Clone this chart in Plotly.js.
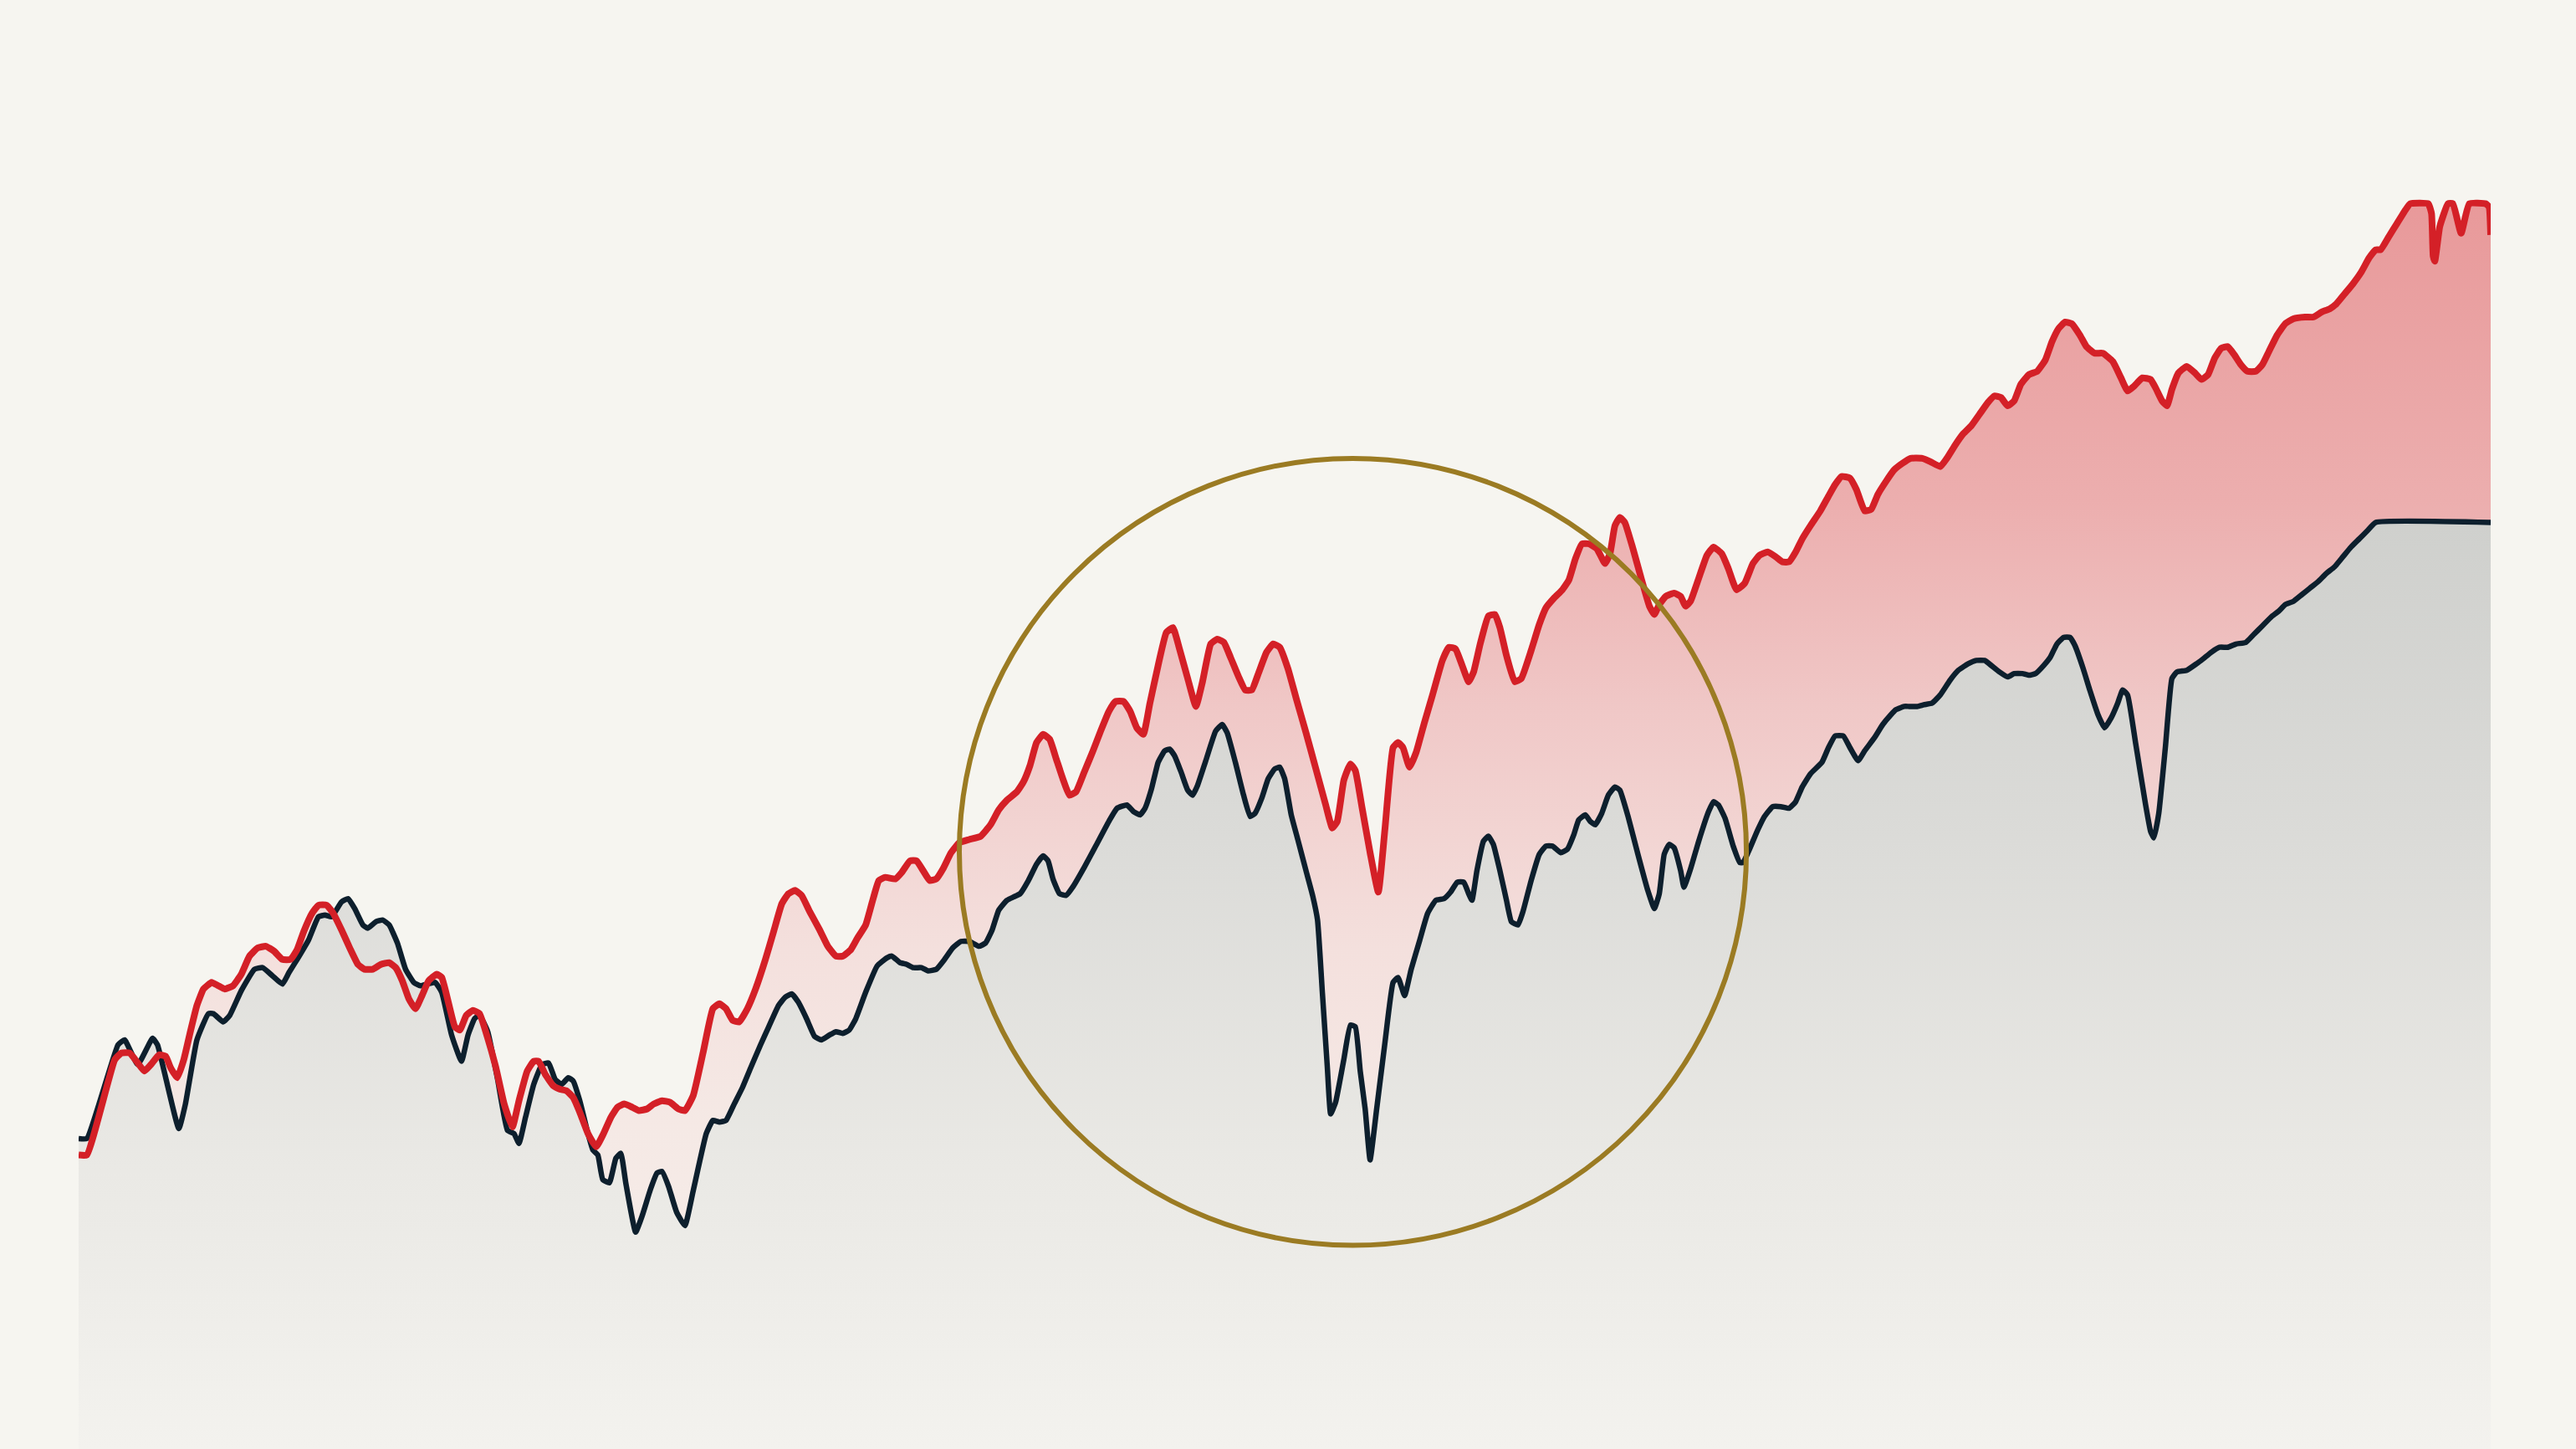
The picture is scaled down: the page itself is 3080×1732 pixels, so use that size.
<!DOCTYPE html>
<html>
<head>
<meta charset="utf-8">
<script src="https://cdn.plot.ly/plotly-3.0.1.min.js"></script>
<style>
  html, body { margin: 0; padding: 0; background: #f6f5f0; }
  #chart { width: 3080px; height: 1732px; }
</style>
</head>
<body>
<div id="chart"></div>
<script>
// black series (position, level)
const black_x = [48,53,72,76,84,93,96,109,113,120,127,130,136,140,147,155,160,166,172,176,181,188,194,198,202,208,212,216,221,224,229,233,237,242,247,252,256,260,265,269,275,281,285,289,292,297,303,309,313,316,320,325,330,334,338,342,346,349,353,358,361,364,367,371,375,378,381,387,391,396,400,403,407,412,417,422,430,434,438,442,447,452,457,463,468,474,478,482,486,491,496,500,505,509,513,517,521,527,534,540,543,548,552,556,561,565,570,575,580,585,590,596,600,604,608,613,617,621,626,631,635,638,641,645,649,653,660,667,675,680,686,690,694,697,701,705,709,712,715,719,723,726,729,734,740,744,747,752,757,761,764,768,772,776,779,782,786,790,795,799,802,805,808,810,813,818,822,825,828,831,834,838,843,848,851,855,859,864,869,874,879,883,887,891,894,896,899,903,906,909,913,917,920,924,927,932,937,941,945,950,954,958,961,965,968,971,975,979,983,986,991,997,1003,1007,1010,1013,1016,1019,1023,1025,1029,1034,1040,1043,1046,1050,1055,1059,1061,1064,1070,1074,1079,1084,1089,1093,1097,1102,1109,1113,1117,1122,1126,1131,1135,1141,1146,1151,1154,1159,1162,1167,1171,1176,1181,1187,1192,1198,1203,1208,1212,1217,1222,1226,1231,1235,1239,1244,1248,1252,1256,1260,1263,1268,1272,1277,1281,1285,1289,1292,1295,1300,1306,1309,1311,1314,1318,1322,1325,1331,1337,1341,1346,1351,1356,1361,1367,1372,1377,1383,1387,1391,1396,1401,1406,1411,1416,1421,1426,1431,1436,1441,1446,1516];
const black_y = [189,189,246,249,234,250,246,195,210,249,265,265,260,264,279,292,293,288,283,290,298,310,324,325,324,333,335,329,319,317,321,322,319,308,292,284,282,283,284,278,252,236,252,262,264,254,225,194,192,186,202,222,234,235,225,222,226,224,212,192,182,179,164,162,177,180,162,132,142,158,168,169,160,144,136,157,192,200,199,200,210,220,232,246,257,270,275,277,272,262,251,249,252,254,253,255,262,278,294,299,300,296,295,293,293,291,292,298,305,309,309,306,308,316,328,334,336,338,346,356,361,358,347,338,337,342,354,367,382,390,392,388,386,390,402,418,425,426,422,412,401,398,404,419,437,441,436,418,398,385,387,396,408,414,415,408,386,371,352,337,322,277,232,204,211,237,258,257,230,207,176,207,247,284,287,276,292,309,326,334,335,339,345,345,338,334,352,370,373,368,352,334,321,319,327,346,362,367,367,363,365,374,383,386,382,380,387,398,403,401,385,362,340,329,338,362,368,366,352,342,353,370,388,394,392,384,367,357,357,363,377,385,391,391,390,394,403,411,418,427,434,434,427,419,425,433,441,447,450,452,452,452,453,454,459,468,474,478,480,480,477,473,470,472,472,471,472,477,482,490,494,494,489,475,462,447,439,445,454,462,459,429,392,376,372,387,427,469,473,474,478,481,485,488,488,490,491,496,501,507,510,514,516,520,524,528,533,537,543,549,554,559,564,564];

// red series (position, level)
const red_x = [48,53,70,74,79,84,88,92,97,101,104,108,112,116,120,124,129,133,137,142,147,152,157,162,167,172,177,181,185,190,194,199,203,208,213,218,222,227,232,237,241,245,249,253,257,261,266,269,273,277,280,284,288,292,297,302,307,312,316,321,325,328,332,337,341,345,349,353,358,363,367,372,376,380,385,389,394,398,403,408,413,417,422,428,434,438,442,446,450,455,460,466,471,476,480,484,488,493,499,504,509,513,518,522,527,531,535,539,545,549,554,558,562,566,570,574,579,584,590,597,603,608,613,619,623,627,631,635,639,643,647,651,655,660,665,670,675,679,684,688,692,696,700,705,710,714,718,723,728,732,737,741,745,749,754,758,762,766,771,775,779,784,789,795,801,807,811,814,818,822,825,829,834,839,843,848,851,854,858,862,867,872,878,882,886,890,894,897,901,906,910,913,917,922,926,932,937,941,946,951,955,959,963,967,972,977,980,983,986,989,994,999,1004,1007,1010,1014,1019,1023,1026,1029,1034,1039,1043,1048,1052,1057,1062,1067,1071,1076,1081,1085,1089,1093,1097,1102,1108,1113,1117,1121,1126,1130,1135,1139,1143,1148,1153,1158,1163,1170,1175,1181,1185,1190,1195,1200,1205,1210,1214,1218,1222,1226,1230,1235,1240,1245,1249,1253,1257,1261,1266,1270,1275,1280,1286,1291,1295,1299,1304,1309,1312,1316,1319,1322,1326,1331,1336,1340,1344,1348,1352,1356,1360,1364,1368,1373,1377,1381,1386,1391,1396,1403,1408,1413,1418,1422,1427,1432,1437,1442,1446,1449,1454,1459,1464,1467,1478,1480,1481,1482,1485,1490,1493,1498,1503,1513,1515,1516];
const red_y = [179,179,237,241,241,235,230,234,240,239,232,226,237,254,270,280,284,282,280,282,289,300,305,306,303,298,298,304,315,326,331,331,326,316,305,295,292,292,295,296,293,285,274,268,276,285,289,287,272,257,255,264,267,265,250,232,210,196,212,230,236,236,228,221,219,218,214,205,192,184,191,202,208,210,208,206,207,210,212,211,207,206,215,241,268,271,268,261,260,268,280,298,315,332,338,340,337,327,316,306,300,300,304,311,319,333,346,348,347,351,358,358,352,346,347,353,363,369,371,373,380,389,395,400,406,416,430,435,432,420,408,398,400,412,424,437,449,455,455,449,439,435,454,477,497,500,487,469,452,467,490,493,491,482,470,462,462,472,485,490,488,475,457,436,414,392,378,382,407,417,413,391,363,339,377,427,430,427,415,424,442,459,480,488,487,477,467,473,490,507,508,500,483,467,469,486,502,512,518,523,529,542,551,551,548,539,545,562,567,564,548,530,513,508,514,519,521,519,513,516,530,544,549,545,536,523,527,539,544,546,543,540,540,546,554,562,571,580,587,592,591,584,571,572,581,589,596,600,603,603,601,598,603,611,618,623,630,637,641,640,635,638,648,654,656,663,674,682,686,685,678,671,667,667,662,652,644,647,652,651,646,638,635,645,655,659,655,651,654,664,670,671,666,660,656,656,660,668,678,685,688,689,689,692,694,697,703,709,716,725,730,730,738,746,754,758,758,752,726,723,744,758,758,740,758,758,756,739];

const bg = '#f6f5f0';

const pink_scale = [
    [0, '#f6efeb'],
    [0.26, '#f5e9e5'],
    [0.4, '#f4e0dd'],
    [0.59, '#f0c8c7'],
    [0.76, '#ecaeae'],
    [1, '#e8999a']
];
const gray_scale = [
    [0, '#f3f2ee'],
    [0.3, '#eae9e5'],
    [0.66, '#dbdbd8'],
    [1, '#cfd0cd']
];

const traces = [
    {   // area under the red series
        x: red_x, y: red_y, mode: 'lines', line: {width: 0},
        fill: 'tozeroy', fillcolor: '#f0c8c7',
        fillgradient: {type: 'vertical', start: 0, stop: 760, colorscale: pink_scale},
        hoverinfo: 'skip', showlegend: false
    },
    {   // area under the black series
        x: black_x, y: black_y, mode: 'lines', line: {width: 0},
        fill: 'tozeroy', fillcolor: '#dbdbd8',
        fillgradient: {type: 'vertical', start: 0, stop: 564, colorscale: gray_scale},
        hoverinfo: 'skip', showlegend: false
    },
    {
        x: black_x, y: black_y, mode: 'lines',
        line: {color: '#0d1f2d', width: 6.5, shape: 'spline', smoothing: 0.4},
        showlegend: false
    },
    {
        x: red_x, y: red_y, mode: 'lines',
        line: {color: '#d42027', width: 8, shape: 'spline', smoothing: 0.4},
        showlegend: false
    }
];

const axis_off = {visible: false, showgrid: false, zeroline: false, fixedrange: true};

const layout = {
    width: 3080,
    height: 1732,
    margin: {l: 94, r: 102, t: 0, b: 0, pad: 0},
    paper_bgcolor: bg,
    plot_bgcolor: bg,
    showlegend: false,
    xaxis: Object.assign({range: [48, 1516]}, axis_off),
    yaxis: Object.assign({range: [0, 882]}, axis_off),
    shapes: [{
        type: 'circle', xref: 'x', yref: 'y',
        x0: 584, x1: 1063, y0: 124, y1: 603,
        line: {color: '#9b7b23', width: 6},
        fillcolor: 'rgba(0,0,0,0)',
        layer: 'above'
    }]
};

Plotly.newPlot('chart', traces, layout, {staticPlot: true, displayModeBar: false});
</script>
</body>
</html>
